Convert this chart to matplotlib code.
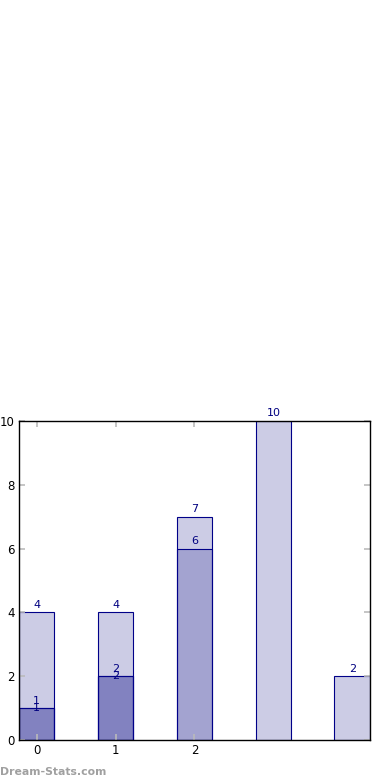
import matplotlib
matplotlib.use('Agg')
import matplotlib.pyplot as plt

positions = [0, 1, 2, 3, 4]
series_a = [4, 4, 7, 10, 2]
series_b = [1, 2, 6, None, None]
series_c = [1, 2, None, None, None]
tick_pos = [0, 1, 2]
tick_labels = ['0', '1', '2']
yticks = [0, 2, 4, 6, 8, 10]

fig = plt.figure(figsize=(3.9, 7.8), dpi=100)
ax = fig.add_axes([0.0487, 0.0513, 0.9, 0.409])

fill = (0.0, 0.0, 0.5, 0.2)
edge = '#000088'
txt = '#000080'
w = 0.45

# layered bars, labels for each layer
for vals, va, dy in [(series_a, 'bottom', 0.08), (series_b, 'bottom', 0.08), (series_c, 'center', 0.0)]:
    xs = [p for p, v in zip(positions, vals) if v is not None]
    hs = [v for v in vals if v is not None]
    ax.bar(xs, hs, width=w, color=fill, edgecolor=edge, linewidth=0.8)
    for x, h in zip(xs, hs):
        ax.text(x, h + dy, str(h), ha='center', va=va, color=txt, fontsize=8)

ax.set_xlim(-0.225, 4.225)
ax.set_ylim(0, 10)
ax.set_xticks(tick_pos)
ax.set_xticklabels(tick_labels)
ax.set_yticks(yticks)
ax.tick_params(direction='in', length=4, color='#bbbbbb', labelsize=8.5,
               top=True, right=True, width=1.2, pad=3)
for s in ax.spines.values():
    s.set_linewidth(1.0)

fig.text(0.0, 0.004, 'Dream-Stats.com', color='#a0a0a0', fontsize=7.8,
         fontweight='bold', ha='left', va='bottom')

fig.savefig('out.png', dpi=100)
